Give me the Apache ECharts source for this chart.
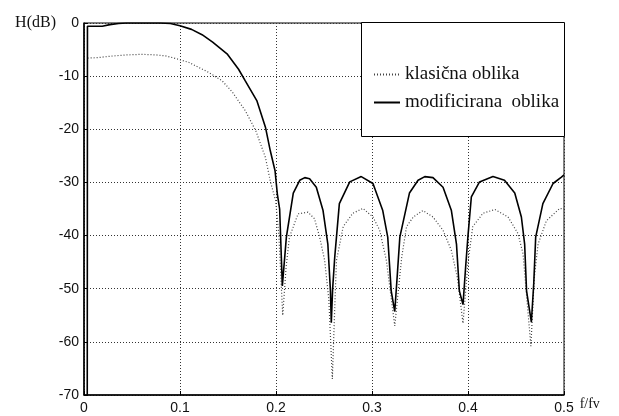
<!DOCTYPE html>
<html>
<head>
<meta charset="utf-8">
<script src="https://cdn.jsdelivr.net/npm/echarts@6/dist/echarts.min.js"></script>
<style>html,body{margin:0;padding:0;background:#fff;}#c{width:619px;height:416px;}</style>
</head>
<body>
<div id="c"></div>
<script>
// Data
var xTicks = [0, 0.1, 0.2, 0.3, 0.4, 0.5];
var yTicks = [0, -10, -20, -30, -40, -50, -60, -70];

var modName = 'modificirana  oblika';
var modF = [0.0034,0.0036,0.012,0.019,0.027,0.036,0.044,0.06,0.079,0.09,0.1,0.112,0.123,0.134,0.149,0.161,0.168,0.18,0.189,0.194,0.199,0.2014,0.2038,0.2066,0.2108,0.218,0.2247,0.23,0.235,0.242,0.249,0.254,0.2567,0.2576,0.259,0.2612,0.266,0.2768,0.2888,0.301,0.3112,0.3164,0.32,0.3237,0.3265,0.329,0.339,0.348,0.355,0.3635,0.374,0.3827,0.388,0.391,0.3948,0.3975,0.4,0.4035,0.412,0.426,0.438,0.4487,0.4556,0.459,0.461,0.466,0.4685,0.4705,0.478,0.4886,0.4973,0.5];
var modDb = [-70,-0.6,-0.6,-0.6,-0.3,-0.1,0,0,0,-0.1,-0.5,-1.2,-2.2,-3.6,-5.8,-8.7,-10.9,-14.6,-19.6,-24,-27.8,-32.2,-35,-49.5,-40.3,-32,-29.6,-29.1,-29.3,-30.9,-35.3,-41.6,-50.4,-56.4,-50,-44,-34,-29.9,-28.9,-30.2,-35.3,-40.3,-50.4,-54.3,-47,-40.3,-32,-29.6,-28.9,-29.1,-30.9,-35.3,-41.6,-50.4,-53,-46,-40,-32.7,-29.9,-28.9,-29.6,-32,-36.5,-41.6,-50.4,-56.3,-49,-40.3,-34,-30.2,-29,-28.6];

var klasName = 'klasična oblika';
var klasF = [0.0038,0.015,0.03,0.045,0.06,0.075,0.085,0.092,0.109,0.13,0.144,0.1545,0.168,0.179,0.189,0.194,0.1997,0.203,0.207,0.2105,0.214,0.223,0.2333,0.24,0.2455,0.2507,0.255,0.2587,0.2615,0.263,0.27,0.28,0.2906,0.301,0.308,0.315,0.3237,0.331,0.336,0.343,0.353,0.3635,0.374,0.3827,0.389,0.3948,0.4,0.405,0.4156,0.428,0.4417,0.452,0.4573,0.4655,0.469,0.473,0.4817,0.4955,0.5];
var klasDb = [-6.6,-6.5,-6.2,-6.0,-5.9,-6.0,-6.2,-6.5,-7.4,-9.3,-10.9,-13,-16.5,-20.3,-25.3,-29.7,-33.5,-40,-55,-46,-40.3,-35.9,-35.6,-36.8,-40.3,-44.7,-52,-67,-52,-44.7,-38.3,-35.8,-34.9,-36.5,-39,-44.7,-57,-44,-38.3,-36.5,-35.3,-36.5,-39,-42.8,-48,-56.5,-45,-38.3,-35.8,-35.1,-36.5,-39.6,-43.4,-60.8,-48,-41.6,-37.2,-34.9,-35];

function pairs(xs, ys){ return xs.map(function(x,i){ return [x, ys[i]]; }); }

var chart = echarts.init(document.getElementById('c'));
var gridLine = {show:true, lineStyle:{color:'#333', width:1, type:[1,2]}};
var tickFont = {color:'#111', fontFamily:'Liberation Sans', fontSize:14};
chart.setOption({
  animation:false,
  backgroundColor:'#fff',
  color:['#444','#000'],
  grid:{left:84, top:23, right:55, bottom:21, show:true, borderColor:'#000', borderWidth:1, backgroundColor:'transparent'},
  xAxis:{
    type:'value', min:xTicks[0], max:xTicks[xTicks.length-1], interval:0.1,
    name:'f/fv', nameLocation:'end', nameGap:10,
    nameTextStyle:{fontFamily:'Liberation Serif', fontSize:14, color:'#111', verticalAlign:'top', padding:[2,0,0,0]},
    axisLine:{show:true, onZero:false, lineStyle:{color:'#000', width:1.5}},
    axisTick:{show:true, inside:true, length:4, lineStyle:{color:'#000'}},
    axisLabel:Object.assign({margin:6, formatter:function(v){return String(v);}}, tickFont),
    splitLine:gridLine
  },
  yAxis:{
    type:'value', min:yTicks[yTicks.length-1], max:yTicks[0], interval:10,
    name:'H(dB)', nameLocation:'end', nameGap:0,
    nameTextStyle:{fontFamily:'Liberation Serif', fontSize:16, color:'#111', align:'right', verticalAlign:'middle', padding:[0,28,0,0]},
    axisLine:{show:true, onZero:false, lineStyle:{color:'#000', width:1.5}},
    axisTick:{show:true, inside:true, length:4, lineStyle:{color:'#000'}},
    axisLabel:Object.assign({margin:5}, tickFont),
    splitLine:gridLine
  },
  graphic:[{type:'rect', left:361, top:22, z:90, shape:{width:203, height:114}, style:{fill:'#fff', stroke:'#000', lineWidth:1}}],
  legend:{
    orient:'vertical', left:368, top:60, z:100,
    itemWidth:26, itemHeight:14, itemGap:9,
    itemStyle:{opacity:0},
    textStyle:{fontFamily:'Liberation Serif', fontSize:19, color:'#111'},
    data:[klasName, modName]
  },
  series:[
    {name:klasName, type:'line', symbol:'none', data:pairs(klasF, klasDb),
     itemStyle:{color:'#444'},
     lineStyle:{color:'#444', width:1.2, type:[1,2]}, z:3},
    {name:modName, type:'line', symbol:'none', data:pairs(modF, modDb),
     itemStyle:{color:'#000'},
     lineStyle:{color:'#000', width:1.6}, z:4}
  ]
});
</script>
</body>
</html>
